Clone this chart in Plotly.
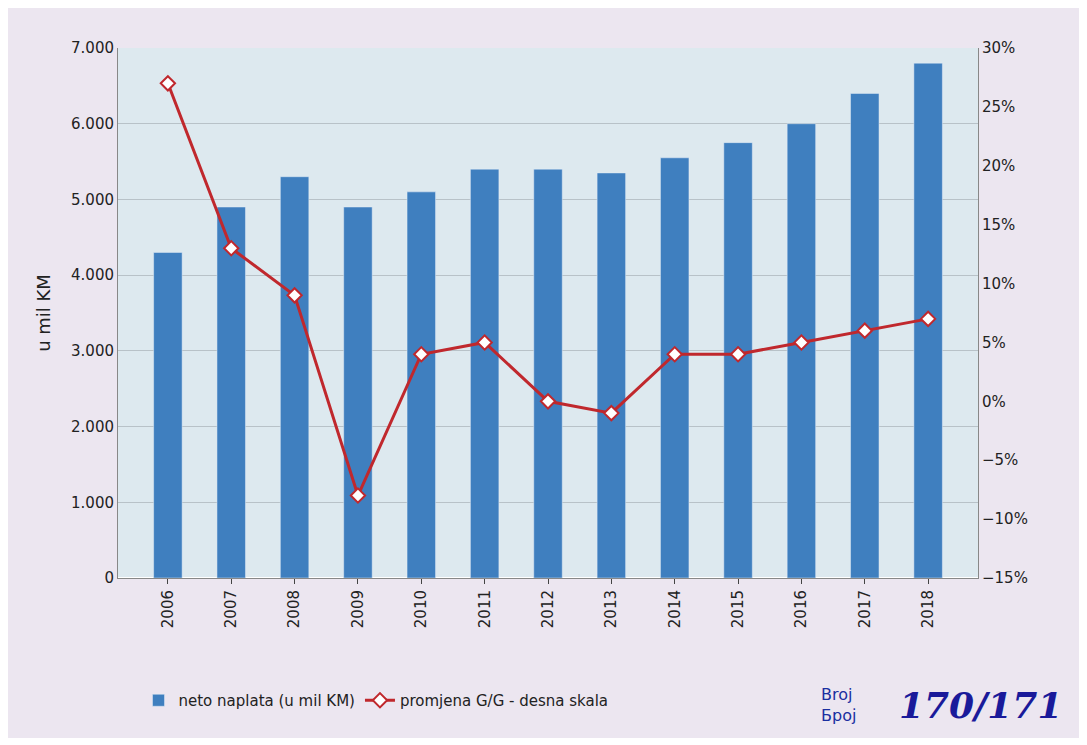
import plotly.graph_objects as go

years = [str(y) for y in range(2006, 2019)]
neto_naplata = [4300, 4900, 5300, 4900, 5100, 5400, 5400, 5350, 5550, 5750, 6000, 6400, 6800]
promjena = [27, 13, 9, -8, 4, 5, 0, -1, 4, 4, 5, 6, 7]

fig = go.Figure()
fig.add_trace(go.Bar(x=years, y=neto_naplata, name="neto naplata (u mil KM)",
                     marker_color="#3f7fbf", width=0.45))
fig.add_trace(go.Scatter(x=years, y=promjena, name="promjena G/G - desna skala", yaxis="y2",
                         mode="lines+markers",
                         line=dict(color="#c0282d", width=3),
                         marker=dict(symbol="diamond", size=11, color="white",
                                     line=dict(color="#c0282d", width=2))))

fig.update_layout(
    width=1080, height=730,
    paper_bgcolor="#ece6f0",
    plot_bgcolor="#dde9ef",
    font=dict(family="DejaVu Sans", size=15, color="#222"),
    margin=dict(l=110, r=110, t=40, b=160),
    bargap=0.4,
    xaxis=dict(tickangle=-90, showline=True, linecolor="#888", ticks="outside"),
    yaxis=dict(title="u mil KM", range=[0, 7000], dtick=1000, tickformat=",d",
               gridcolor="#b8c2c8", showline=True, linecolor="#888"),
    yaxis2=dict(overlaying="y", side="right", range=[-15, 30], dtick=5, zeroline=False,
                ticksuffix="%", showgrid=False, showline=True, linecolor="#888"),
    separators=",.",
    legend=dict(orientation="h", x=0.3, xanchor="center", y=-0.2, bgcolor="rgba(0,0,0,0)"),
)
fig.add_annotation(xref="paper", yref="paper", x=0.86, xanchor="right", y=-0.24, yanchor="middle",
                   showarrow=False, text="Broj<br>Број", font=dict(size=16, color="#1a2fa0"), align="left")
fig.add_annotation(xref="paper", yref="paper", x=1.1, xanchor="right", y=-0.24, yanchor="middle",
                   showarrow=False, text="<i><b>170/171</b></i>",
                   font=dict(size=36, color="#1a1a9a", family="DejaVu Serif"))

fig.write_html("out.html")
